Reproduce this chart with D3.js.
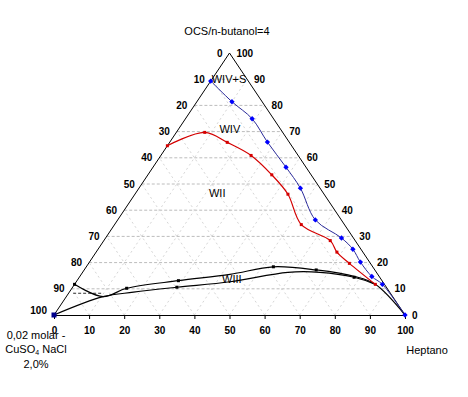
<!DOCTYPE html>
<html><head><meta charset="utf-8">
<script src="https://cdn.jsdelivr.net/npm/d3@7"></script>
<style>
body{margin:0;background:#fff;}
text{font-family:Arial,"Liberation Sans",sans-serif;fill:#000;}
</style>
</head><body>
<svg id="c" width="468" height="397"></svg>
<script>
// ---- data: points as [Heptano %, OCS/n-butanol %] ----
const tickValues = [0,10,20,30,40,50,60,70,80,90,100];
const gridLevels = [10,20,30,40,50,60,70,80,90];

const blueCurve = [[0,89.3],[10.0,81.4],[19.0,74.9],[27.8,66.0],[37.9,56.4],[46.0,48.4],
  [56.3,36.3],[67.2,29.4],[72.6,25.1],[77.2,20.2],[83.2,14.7],[87.7,11.7],[100,0]];
const blueVertex = [[0,0]];

const redCurve = [[0,64.6],[8.1,69.7],[16.4,65.9],[25.7,60.9],[35.3,53.5],[43.6,46.1],
  [53.2,34.5],[64.5,28.4],[68.6,24.0],[74.3,19.7],[85.7,11.7]];

const blackUpper = [[0,11.7],[10.5,7.0],[15.6,10.2],[28.9,13.1],[42.4,15.5],[53.3,18.4],
  [66.1,17.2],[78.4,14.7],[85.7,11.7],[100,0]];
const blackLower = [[0,0],[10.5,7.0],[18.3,8.7],[29.7,10.6],[43.8,12.7],[58.5,16.3],
  [67.6,16.3],[78.3,14.4],[85.7,11.7]];
const blackMarkers = [[0,11.7],[15.6,10.2],[28.9,13.1],[53.3,18.4],[66.1,17.2],[29.7,10.6],[78.3,14.4]];
const tieLine = [[1.3,8.3],[9.8,8.3]];

const regionNames = ["WIV+S","WIV","WII","WIII"];
const regionAt = [[4.8,90.1],[14.6,71.0],[23.2,46.6],[43.7,13.9]];

// ---- layout ----
const svg = d3.select("#c");
const xL = 54, xR = 405, yB = 315, yT = 53;
const xS = d3.scaleLinear().domain([0,100]).range([xL,xR]);
const yS = d3.scaleLinear().domain([0,100]).range([yB,yT]);
const P = d => [xS(d[0] + d[1]/2), yS(d[1])];

// grid
const g = svg.append("g");
gridLevels.forEach(v => {
  g.append("line").attr("x1",P([0,v])[0]).attr("y1",P([0,v])[1])
   .attr("x2",P([100-v,v])[0]).attr("y2",P([100-v,v])[1])
   .attr("stroke","#bcbcbc").attr("stroke-dasharray","3,2").attr("stroke-width",1);
  g.append("line").attr("x1",P([v,0])[0]).attr("y1",P([v,0])[1])
   .attr("x2",P([v,100-v])[0]).attr("y2",P([v,100-v])[1])
   .attr("stroke","#d6d6d6").attr("stroke-dasharray","2,3").attr("stroke-width",1);
  g.append("line").attr("x1",P([100-v,0])[0]).attr("y1",P([100-v,0])[1])
   .attr("x2",P([0,100-v])[0]).attr("y2",P([0,100-v])[1])
   .attr("stroke","#d6d6d6").attr("stroke-dasharray","2,3").attr("stroke-width",1);
});

// triangle sides
svg.append("path").attr("d", d3.line()([P([0,0]),P([0,100]),P([100,0])]))
  .attr("fill","none").attr("stroke","#000").attr("stroke-width",1);

// bottom axis
const ax = svg.append("g").attr("transform",`translate(0,${yB})`)
  .call(d3.axisBottom(xS).tickValues(tickValues).tickSize(4).tickPadding(8).tickFormat(d3.format("d")));
ax.select(".domain").attr("stroke","#000");
ax.selectAll("text").attr("font-size",10).attr("font-weight","bold").attr("font-family","Arial, 'Liberation Sans', sans-serif");

// left labels (brine %): 0 at top, 100 at bottom-left
tickValues.forEach(v => {
  const p = P([0,100-v]);
  svg.append("text").attr("x",p[0]-7).attr("y",p[1] - (v===100?5:0)).attr("dy","0.36em")
    .attr("text-anchor","end").attr("font-size",10).attr("font-weight","bold").text(v);
});
// right labels (OCS %)
tickValues.forEach(v => {
  const p = P([100-v,v]);
  svg.append("text").attr("x",p[0]+7).attr("y",p[1]).attr("dy","0.36em")
    .attr("text-anchor","start").attr("font-size",10).attr("font-weight","bold").text(v);
});

const line = d3.line().x(d=>P(d)[0]).y(d=>P(d)[1]).curve(d3.curveCatmullRom.alpha(0.5));

// tie line
svg.append("path").attr("d", d3.line().x(d=>P(d)[0]).y(d=>P(d)[1])(tieLine))
  .attr("stroke","#333").attr("stroke-dasharray","3,2").attr("fill","none");

// black curves
[blackUpper, blackLower].forEach(c => svg.append("path").attr("d", line(c))
  .attr("fill","none").attr("stroke","#000").attr("stroke-width",1.2));
svg.selectAll(".bm").data(blackMarkers).join("rect").attr("class","bm")
  .attr("x",d=>P(d)[0]-1.5).attr("y",d=>P(d)[1]-1.5).attr("width",3).attr("height",3).attr("fill","#000");

// red curve
svg.append("path").attr("d", line(redCurve)).attr("fill","none").attr("stroke","#d40000").attr("stroke-width",1.2);
svg.selectAll(".rm").data(redCurve).join("rect").attr("class","rm")
  .attr("x",d=>P(d)[0]-1.5).attr("y",d=>P(d)[1]-1.5).attr("width",3).attr("height",3).attr("fill","#d40000");

// blue curve
svg.append("path").attr("d", line(blueCurve)).attr("fill","none").attr("stroke","#2a2a9a").attr("stroke-width",1);
const diamond = d3.symbol().type(d3.symbolDiamond2).size(18);
svg.selectAll(".blm").data(blueCurve).join("path").attr("class","blm")
  .attr("transform",d=>`translate(${P(d)[0]},${P(d)[1]})`).attr("d",diamond).attr("fill","#0000ff");
svg.selectAll(".bv").data(blueVertex).join("rect").attr("class","bv")
  .attr("x",d=>P(d)[0]-2.5).attr("y",d=>P(d)[1]-2.5).attr("width",5).attr("height",5).attr("fill","#00008b");

// region labels
regionNames.forEach((t,i) => {
  const p = P(regionAt[i]);
  svg.append("text").attr("x",p[0]).attr("y",p[1]).attr("dy","0.36em")
    .attr("text-anchor","middle").attr("font-size",11).text(t);
});

// title and vertex names
svg.append("text").attr("x",227).attr("y",31).attr("dy","0.36em").attr("text-anchor","middle")
  .attr("font-size",11).text("OCS/n-butanol=4");
svg.append("text").attr("x",427).attr("y",350).attr("dy","0.36em").attr("text-anchor","middle")
  .attr("font-size",11).text("Heptano");
const bl = svg.append("text").attr("text-anchor","middle").attr("font-size",11);
bl.append("tspan").attr("x",36).attr("y",335).attr("dy","0.36em").text("0,02 molar -");
const l2 = bl.append("tspan").attr("x",36).attr("y",349).attr("dy","0.36em");
l2.append("tspan").text("CuSO");
l2.append("tspan").attr("font-size",7).attr("dy","2").text("4");
l2.append("tspan").attr("dy","-2").text(" NaCl");
bl.append("tspan").attr("x",36).attr("y",364).attr("dy","0.36em").text("2,0%");
</script>
</body></html>
